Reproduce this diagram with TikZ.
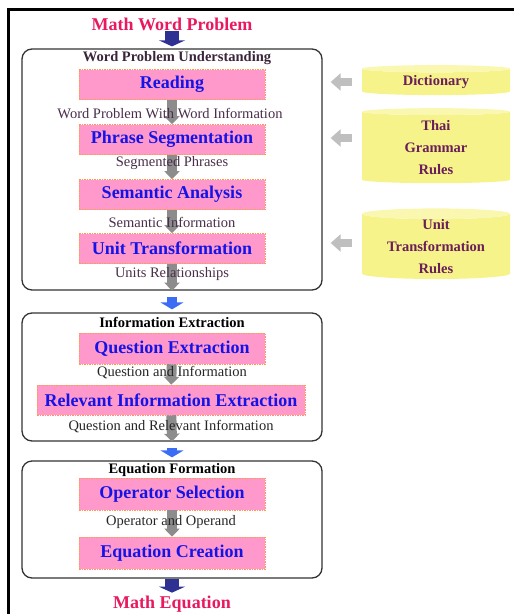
\documentclass[tikz,border=0pt]{standalone}
\usepackage{fontspec}
\setmainfont{Liberation Serif}
\usetikzlibrary{arrows.meta,shapes.geometric}
\definecolor{headpink}{HTML}{E8195F}
\definecolor{stepblue}{HTML}{1414E6}
\definecolor{stepfill}{HTML}{FF99CC}
\definecolor{stepline}{HTML}{FF9955}
\definecolor{notepurple}{HTML}{4A2E4A}
\definecolor{dbtext}{HTML}{6A1E5A}
\definecolor{dbbody}{HTML}{F6F38A}
\definecolor{dbtop}{HTML}{FAF8B0}
\definecolor{darkarrow}{HTML}{2E3192}
\definecolor{lightarrow}{HTML}{3A6CF4}
\begin{document}
\begin{tikzpicture}[x=1pt,y=-1pt,
    stage/.style={draw=black!80,line width=1.3pt,rounded corners=10pt,minimum width=300pt,inner sep=0pt},
    stepbox/.style={draw=stepline,line width=0.6pt,dash pattern=on 1.5pt off 1pt,fill=stepfill,minimum width=186pt,minimum height=30pt,inner sep=0pt,text=stepblue,font=\fontsize{18}{20}\selectfont\bfseries},
    stagetitle/.style={font=\fontsize{14.5}{16}\selectfont\bfseries},
    note/.style={font=\fontsize{14.5}{16}\selectfont},
    headline/.style={text=headpink,font=\fontsize{18}{20}\selectfont\bfseries,inner sep=0pt},
    database/.style={cylinder,shape border rotate=90,aspect=0.11,cylinder uses custom fill,cylinder body fill=dbbody,cylinder end fill=dbtop,minimum width=148pt,inner sep=0pt,align=center,text=dbtext,font=\fontsize{14.5}{22}\selectfont\bfseries},
    flowarrow/.style={line width=10pt,draw=black!45,-{Triangle[width=15pt,length=8pt]}},
    sidearrow/.style={line width=8pt,draw=black!25,-{Triangle[width=17pt,length=10pt]},shorten <=10pt,shorten >=8pt},
    darkdown/.style={line width=14pt,draw=darkarrow,-{Triangle[width=26pt,length=6pt]}},
    lightdown/.style={line width=10pt,draw=lightarrow,-{Triangle[width=23pt,length=7pt]},shorten <=6pt,shorten >=3pt}]
    \useasboundingbox (0,0) rectangle (514,614);
    %% Frame
    \draw[line width=3pt] (8,614) -- (8,9) -- (514,9);
    %% Stages
    \node[stage,minimum height=241pt] (S1) at (172,169.5) {};
    \node[stage,minimum height=128pt] (S2) at (172,377) {};
    \node[stage,minimum height=117pt] (S3) at (172,519.5) {};
    %% Steps
    \node[stepbox] (R) at (172,84.5) {Reading};
    \node[stepbox] (P) at (172,139.5) {Phrase Segmentation};
    \node[stepbox] (A) at (172,194.5) {Semantic Analysis};
    \node[stepbox] (U) at (172,248.5) {Unit Transformation};
    \node[stepbox,minimum height=31pt] (Q) at (172,348.5) {Question Extraction};
    \node[stepbox,minimum width=268pt] (E) at (171,400) {Relevant Information Extraction};
    \node[stepbox,minimum height=32pt] (O) at (172,494) {Operator Selection};
    \node[stepbox,minimum height=32pt] (C) at (172,553) {Equation Creation};
    %% Knowledge
    \node[database,minimum height=30pt] (D) at (436,82) {Dictionary};
    \node[database,minimum height=75pt] (G) at (436,147.5) {Thai\\Grammar\\Rules};
    \node[database,minimum height=67pt] (T) at (436,246.5) {Unit\\Transformation\\Rules};
    %% Input and output
    \node[headline] (IN) at (172,24) {Math Word Problem};
    \node[headline] (OUT) at (172,604) {Math Equation};
    %% Flow inside the stages
    \draw[flowarrow] (R) -- (P);
    \draw[flowarrow] (P) -- (A);
    \draw[flowarrow] (A) -- (U);
    \draw[flowarrow] (U) -- (S1.south);
    \draw[flowarrow] (Q) -- (E);
    \draw[flowarrow] (E) -- (S2.south);
    \draw[flowarrow] (O) -- (C);
    %% Flow between the stages
    \draw[darkdown,shorten >=2pt] (IN) -- (S1.north);
    \draw[lightdown] (S1.south) -- (S2.north);
    \draw[lightdown] (S2.south) -- (S3.north);
    \draw[darkdown,shorten >=3pt] (S3.south) -- (OUT);
    %% Knowledge into the first stage
    \draw[sidearrow] (D.west) -- (D.west -| S1.east);
    \draw[sidearrow] ([yshift=9.5pt]G.west) -- ([yshift=9.5pt]G.west -| S1.east);
    \draw[sidearrow] ([yshift=3.5pt]T.west) -- ([yshift=3.5pt]T.west -| S1.east);
    %% Titles and data
    \node[stagetitle,text=notepurple!80!black] (T1) at (177,58) {Word Problem Understanding};
    \node[note,text=notepurple] (N1) at (170,114) {Word Problem With Word Information};
    \node[note,text=notepurple] (N2) at (172,163) {Segmented Phrases};
    \node[note,text=notepurple] (N3) at (172,222) {Semantic Information};
    \node[note,text=notepurple] (N4) at (172,274) {Units Relationships};
    \node[stagetitle] (T2) at (172,322) {Information Extraction};
    \node[note,text=black!85] (N5) at (172,373) {Question and Information};
    \node[note,text=black!85] (N6) at (171,427) {Question and Relevant Information};
    \node[stagetitle] (T3) at (172,470) {Equation Formation};
    \node[note,text=black!85] (N7) at (171,522) {Operator and Operand};
\end{tikzpicture}
\end{document}
